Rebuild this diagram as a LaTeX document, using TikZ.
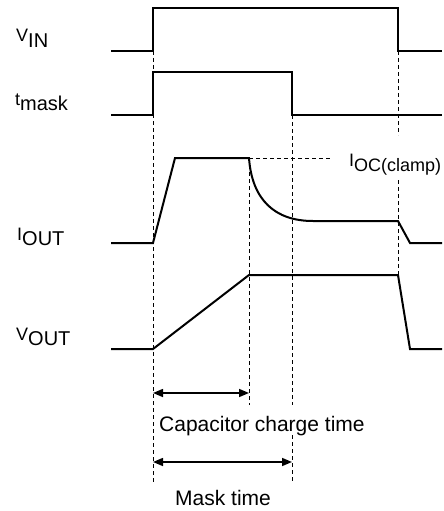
\documentclass[tikz,border=0pt]{standalone}
\usepackage{fontspec}
\setmainfont{Liberation Sans}
\usetikzlibrary{arrows.meta}
\newcommand{\subtxt}[2][20]{\raisebox{-5.5pt}{\fontsize{#1}{#1}\selectfont #2}}
\begin{document}
\begin{tikzpicture}[x=1pt,y=-1pt,
  sig/.style={line width=2pt, line join=miter},
  guide/.style={line width=0.9pt, dash pattern=on 4pt off 3pt},
  dim/.style={line width=1.5pt, {Triangle[length=10pt,width=8pt]}-{Triangle[length=10pt,width=8pt]}},
  lbl/.style={inner sep=0pt, anchor=base west, font=\fontsize{18}{18}\selectfont},
  txt/.style={inner sep=0pt, anchor=base west, font=\fontsize{21}{21}\selectfont}]
\useasboundingbox (0,0) rectangle (444,511);
% guide lines
\draw[guide] (153,51) -- (153,483);
\draw[guide] (292,115) -- (292,405);
\draw[guide] (292,435) -- (292,483);
\draw[guide] (249,158) -- (249,405);
\draw[guide] (398,51) -- (398,135);
\draw[guide] (398,180) -- (398,275);
\draw[guide] (249,158) -- (330,158);
% signals
\draw[sig] (111,51) -- (153,51) -- (153,8) -- (398,8) -- (398,51) -- (442,51);
\draw[sig] (111,115) -- (153,115) -- (153,72) -- (292,72) -- (292,115) -- (442,115);
\draw[sig] (111,243) -- (153,243) -- (175,158) -- (249,158) .. controls (252,200) and (275,221) .. (313,221) -- (398,221) -- (410,243) -- (442,243);
\draw[sig] (111,349) -- (153,349) -- (249,275) -- (398,275) -- (410,349) -- (442,349);
% dimension arrows
\coordinate (c1) at (153,393);
\coordinate (c2) at (249,393);
\coordinate (m1) at (153,462);
\coordinate (m2) at (292,462);
\draw[dim] (c1) -- (c2);
\draw[dim] (m1) -- (m2);
% labels
\node[lbl] (vin) at (16,42) {V\subtxt{IN}};
\node[lbl] (tmask) at (15,105) {t\subtxt{mask}};
\node[lbl] (iout) at (17,240) {I\subtxt{OUT}};
\node[lbl] (vout) at (16,340) {V\subtxt{OUT}};
\node[lbl] (ioc) at (349,166) {I\subtxt[18]{OC(clamp)}};
\node[txt] (cct) at (159,431) {Capacitor charge time};
\node[txt] (mt) at (175,505) {Mask time};
\end{tikzpicture}
\end{document}
